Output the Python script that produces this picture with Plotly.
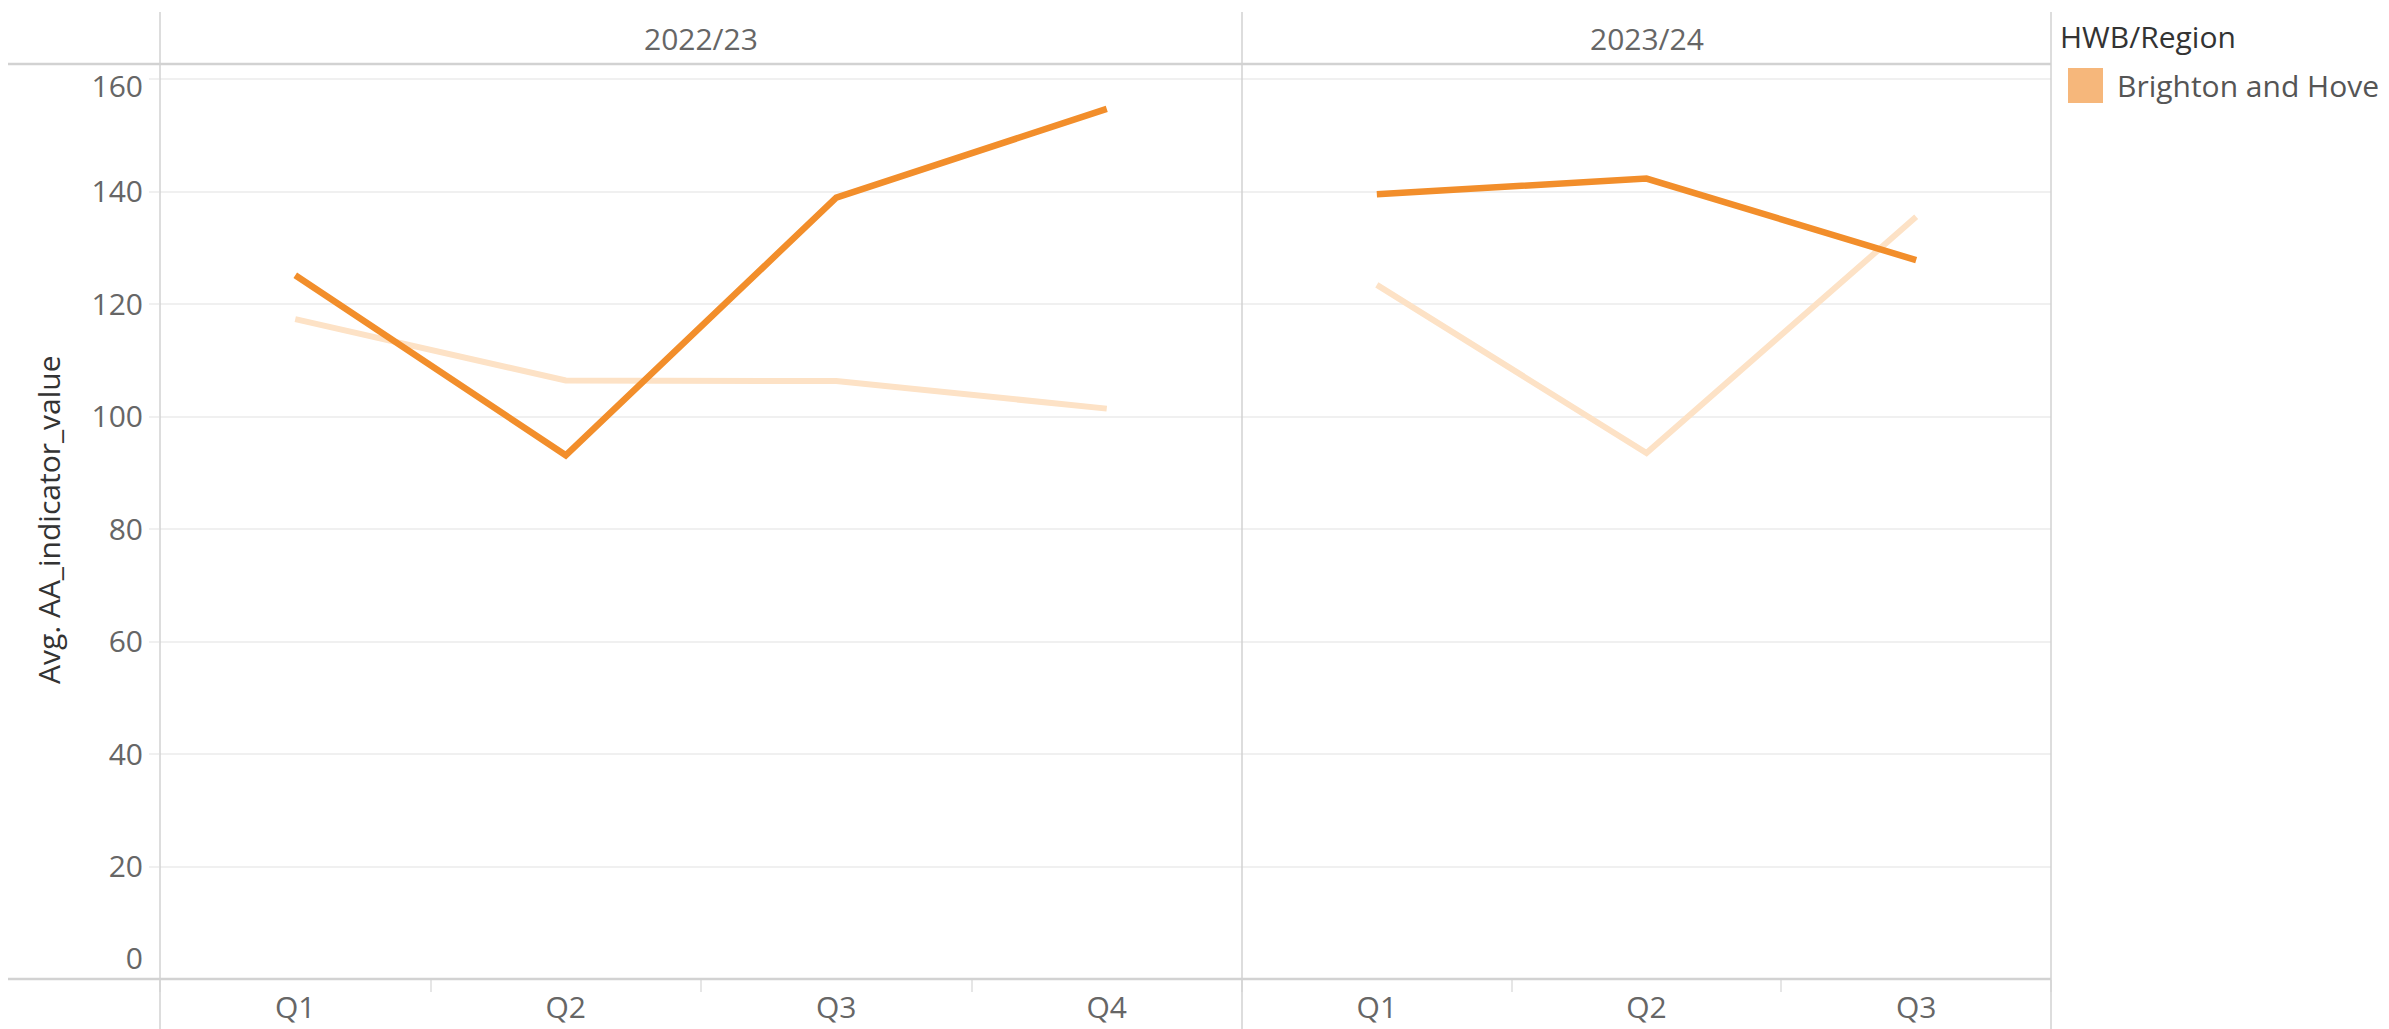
import plotly.graph_objects as go

# ---- data ----
years = ["2022/23", "2023/24"]
quarters_2223 = ["Q1", "Q2", "Q3", "Q4"]
quarters_2324 = ["Q1", "Q2", "Q3"]
brighton_2223 = [125.1, 93.1, 138.9, 154.7]
brighton_2324 = [139.5, 142.3, 127.8]
comparator_2223 = [117.3, 106.4, 106.3, 101.4]
comparator_2324 = [123.4, 93.5, 135.5]
y_ticks = [0, 20, 40, 60, 80, 100, 120, 140, 160]
legend_title = "HWB/Region"
legend_item = "Brighton and Hove"
y_title = "Avg. AA_indicator_value"

W, H = 2389, 1029
L, R, T, B = 160, 2051, 64, 979
PW, PH = R - L, B - T
split = 1242

def px(x):
    return (x - L) / PW

def py(y):
    return (B - y) / PH

DARK = "#F28E2B"
PALE = "#FDE2C6"
FONT = "Open Sans"
TICKFONT = dict(family=FONT, size=30, color="#666666")

fig = go.Figure()
fig.add_trace(go.Scatter(x=quarters_2223, y=comparator_2223, xaxis="x", yaxis="y",
                         mode="lines", line=dict(color=PALE, width=6),
                         name="Comparator", showlegend=False, hoverinfo="skip"))
fig.add_trace(go.Scatter(x=quarters_2324, y=comparator_2324, xaxis="x2", yaxis="y",
                         mode="lines", line=dict(color=PALE, width=6),
                         name="Comparator", showlegend=False, hoverinfo="skip"))
fig.add_trace(go.Scatter(x=quarters_2223, y=brighton_2223, xaxis="x", yaxis="y",
                         mode="lines", line=dict(color=DARK, width=6.5),
                         name=legend_item, showlegend=False))
fig.add_trace(go.Scatter(x=quarters_2324, y=brighton_2324, xaxis="x2", yaxis="y",
                         mode="lines", line=dict(color=DARK, width=6.5),
                         name=legend_item, showlegend=False))
# empty helper traces so the label-only overlay axes are created
fig.add_trace(go.Scatter(x=[], y=[], xaxis="x", yaxis="y2", showlegend=False, hoverinfo="skip"))
fig.add_trace(go.Scatter(x=[], y=[], xaxis="x", yaxis="y3", showlegend=False, hoverinfo="skip"))

xcommon = dict(type="category", showgrid=False, zeroline=False, showline=False,
               ticks="outside", tickson="boundaries", ticklen=12, tickcolor="#e6e6e6",
               tickwidth=1.5, tickfont=TICKFONT, ticklabelstandoff=8,
               automargin=False, fixedrange=True)

y_range = [0, (B - T) / ((B - 79) / 160)]

ycommon = dict(range=y_range, zeroline=False, showline=False, automargin=False,
               ticks="outside", ticklen=10, tickwidth=1.5, tickfont=TICKFONT,
               fixedrange=True)

fig.update_layout(
    width=W, height=H,
    margin=dict(l=L, r=W - R, t=T, b=H - B, pad=0, autoexpand=False),
    paper_bgcolor="white", plot_bgcolor="white",
    showlegend=False,
    xaxis=dict(domain=[0, px(split)], range=[-0.5, 3.5], anchor="y", **xcommon),
    xaxis2=dict(domain=[px(split), 1], range=[-0.5, 2.5], anchor="y", **xcommon),
    yaxis=dict(tickvals=y_ticks,
               ticktext=["" if v in (y_ticks[0], y_ticks[-1]) else str(v) for v in y_ticks],
               showgrid=True, gridcolor="#f0f0f0", gridwidth=1.5,
               tickcolor="#f0f0f0", **ycommon),
    yaxis2=dict(overlaying="y", anchor="x", side="left", tickvals=[y_ticks[0]],
                showgrid=False, tickcolor="rgba(0,0,0,0)", ticklabelshift=-21, **ycommon),
    yaxis3=dict(overlaying="y", anchor="x", side="left", tickvals=[y_ticks[-1]],
                showgrid=False, tickcolor="rgba(0,0,0,0)", ticklabelshift=7, **ycommon),
)

shapes = []
line_col = "#d2d2d2"
for yy in (T, B):
    shapes.append(dict(type="line", xref="paper", yref="paper",
                       x0=px(8), x1=1, y0=py(yy), y1=py(yy),
                       line=dict(color=line_col, width=2.5)))
for xx in (L, split, R):
    shapes.append(dict(type="line", xref="paper", yref="paper",
                       x0=px(xx), x1=px(xx), y0=py(12), y1=py(H),
                       line=dict(color=line_col, width=1.5)))
shapes.append(dict(type="rect", xref="paper", yref="paper",
                   x0=px(2068), x1=px(2103), y0=py(103), y1=py(68),
                   fillcolor="#F6B77B", line=dict(width=0)))
fig.update_layout(shapes=shapes)

annotations = [
    dict(text=years[0], x=px((L + split) / 2), y=py(39), xref="paper", yref="paper",
         showarrow=False, font=dict(family=FONT, size=30, color="#666666"),
         xanchor="center", yanchor="middle"),
    dict(text=years[1], x=px((split + R) / 2), y=py(39), xref="paper", yref="paper",
         showarrow=False, font=dict(family=FONT, size=30, color="#666666"),
         xanchor="center", yanchor="middle"),
    dict(text=y_title, x=px(48), y=py(520), xref="paper", yref="paper", textangle=-90,
         showarrow=False, font=dict(family=FONT, size=30, color="#333333"),
         xanchor="center", yanchor="middle"),
    dict(text=legend_title, x=px(2058), y=py(36), xref="paper", yref="paper",
         showarrow=False, font=dict(family=FONT, size=30, color="#333333"),
         xanchor="left", yanchor="middle"),
    dict(text=legend_item, x=px(2115), y=py(85), xref="paper", yref="paper",
         showarrow=False, font=dict(family=FONT, size=30, color="#555555"),
         xanchor="left", yanchor="middle"),
]
fig.update_layout(annotations=annotations)

fig.write_html("out.html", config={"displayModeBar": False},
               post_script="document.body.style.margin='0';")
